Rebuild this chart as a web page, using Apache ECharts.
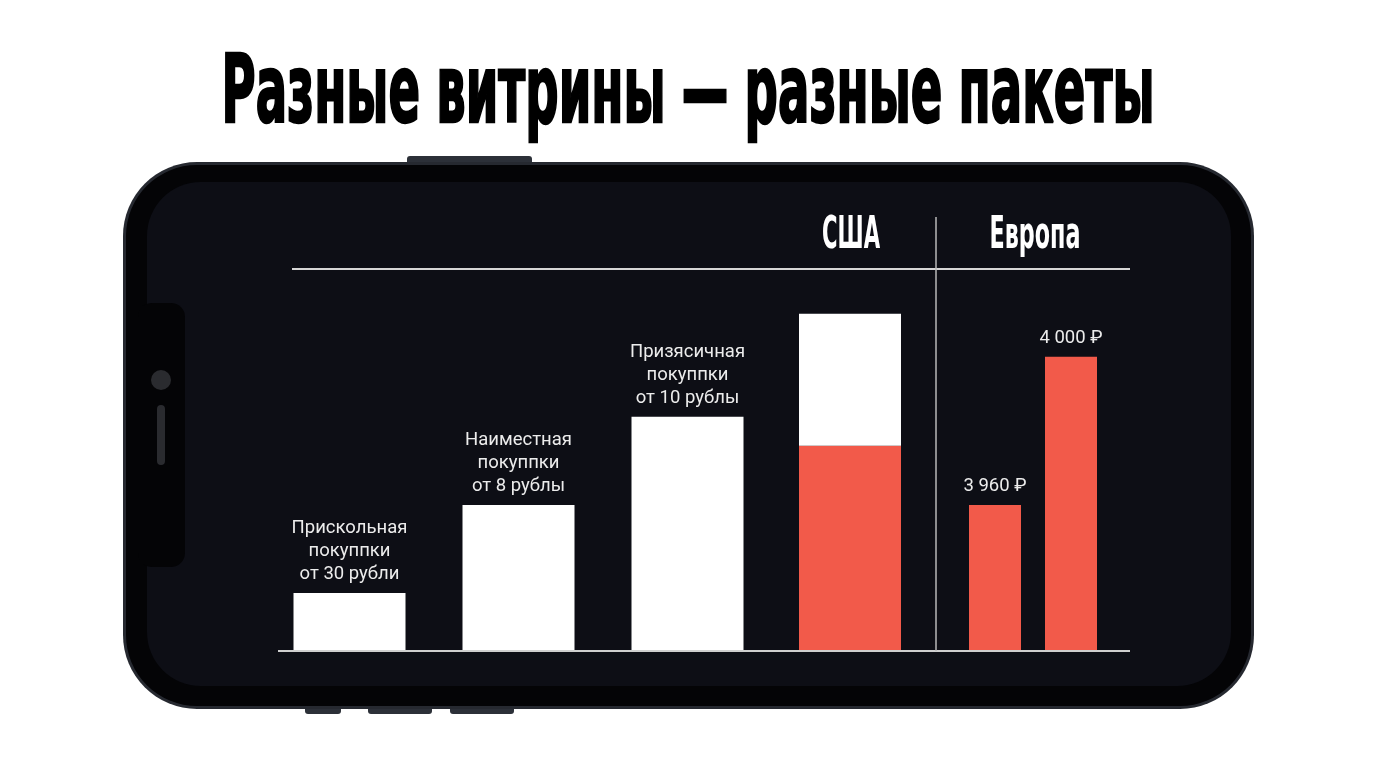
<!DOCTYPE html>
<html>
<head>
<meta charset="utf-8">
<script src="https://cdn.jsdelivr.net/npm/echarts@6/dist/echarts.min.js"></script>
<style>
  html, body { margin: 0; background: #fff; }
  #chart { width: 1376px; height: 768px; }
</style>
</head>
<body>
<div id="chart"></div>
<script>
const titleText = 'Разные витрины — разные пакеты'
const sectionNames = ['США', 'Европа']

// left block: three white bars (relative height, 0..100)
const tierCategories = ['Прискольная', 'Наиместная', 'Призясичная']
const tierLabels = [
  'Прискольная\nпокуппки\nот 30 рубли',
  'Наиместная\nпокуппки\nот 8 рублы',
  'Призясичная\nпокуппки\nот 10 рублы',
]
const tierValues = [15.2, 38.2, 61.3]

// USA: red part + white part on top
const usaRed = [53.7]
const usaWhite = [34.6]

// Europe
const euCategories = ['3960', '4000']
const euLabels = ['3 960 ₽', '4 000 ₽']
const euValues = [38.2, 77.0]

const RED = '#f25a4a'
const SCREEN = '#0d0e15'
const condensed = '"Liberation Sans Narrow", "DejaVu Sans Condensed", "Liberation Sans", sans-serif'

// squeeze bold text to the width it has in the picture
function fitScale(text, size, target) {
  const ctx = document.createElement('canvas').getContext('2d')
  ctx.font = `bold ${size}px ${condensed}`
  return target / ctx.measureText(text).width
}

function condensedText(text, cx, cy, size, width, color, extra) {
  return {
    type: 'text',
    x: cx,
    y: cy,
    scaleX: fitScale(text, size, width),
    z: 20,
    style: Object.assign({
      text,
      fill: color,
      fontFamily: condensed,
      fontWeight: 'bold',
      fontSize: size,
      align: 'center',
      verticalAlign: 'middle',
    }, extra || {}),
  }
}

const chart = echarts.init(document.getElementById('chart'))

const gridTop = 269
const gridBottom = 117
const labelStyle = {
  show: true,
  position: 'top',
  distance: 7,
  color: '#ececec',
  fontFamily: 'Roboto',
  fontSize: 18.5,
  lineHeight: 23,
}

const option = {
  backgroundColor: '#fff',
  animation: false,
  grid: [
    { left: 265, width: 507, top: gridTop, bottom: gridBottom },
    { left: 780, width: 140, top: gridTop, bottom: gridBottom },
    { left: 957, width: 152, top: gridTop, bottom: gridBottom },
  ],
  xAxis: [
    { type: 'category', gridIndex: 0, data: tierCategories, show: false },
    { type: 'category', gridIndex: 1, data: [sectionNames[0]], show: false },
    { type: 'category', gridIndex: 2, data: euCategories, show: false },
  ],
  yAxis: [0, 1, 2].map(i => ({ type: 'value', gridIndex: i, min: 0, max: 100, show: false })),
  series: [
    {
      type: 'bar',
      xAxisIndex: 0,
      yAxisIndex: 0,
      data: tierValues,
      barWidth: 112,
      itemStyle: { color: '#fff' },
      label: Object.assign({}, labelStyle, { formatter: p => tierLabels[p.dataIndex] }),
    },
    {
      type: 'bar',
      xAxisIndex: 1,
      yAxisIndex: 1,
      stack: 'usa',
      data: usaRed,
      barWidth: 102,
      itemStyle: { color: RED },
    },
    {
      type: 'bar',
      xAxisIndex: 1,
      yAxisIndex: 1,
      stack: 'usa',
      data: usaWhite,
      barWidth: 102,
      itemStyle: { color: '#fff' },
    },
    {
      type: 'bar',
      xAxisIndex: 2,
      yAxisIndex: 2,
      data: euValues,
      barWidth: 52,
      itemStyle: { color: RED },
      label: Object.assign({}, labelStyle, { formatter: p => euLabels[p.dataIndex] }),
    },
  ],
  graphic: [
    // phone body
    { type: 'rect', z: 0, shape: { x: 407, y: 156, width: 125, height: 10, r: 3 }, style: { fill: '#2c3038' } },
    { type: 'rect', z: 0, shape: { x: 305, y: 704, width: 36, height: 10, r: 3 }, style: { fill: '#2c3038' } },
    { type: 'rect', z: 0, shape: { x: 368, y: 704, width: 64, height: 10, r: 3 }, style: { fill: '#2c3038' } },
    { type: 'rect', z: 0, shape: { x: 450, y: 704, width: 64, height: 10, r: 3 }, style: { fill: '#2c3038' } },
    { type: 'rect', z: 1, shape: { x: 123, y: 162, width: 1131, height: 547, r: 74 }, style: { fill: '#262930' } },
    { type: 'rect', z: 1, shape: { x: 126, y: 165, width: 1125, height: 541, r: 71 }, style: { fill: '#040406' } },
    { type: 'rect', z: 1, shape: { x: 147, y: 182, width: 1084, height: 504, r: 54 }, style: { fill: SCREEN } },
    { type: 'rect', z: 1, shape: { x: 138, y: 303, width: 47, height: 264, r: 14 }, style: { fill: '#040406' } },
    { type: 'circle', z: 1, shape: { cx: 161, cy: 380, r: 10 }, style: { fill: '#2a2b2f' } },
    { type: 'rect', z: 1, shape: { x: 157, y: 405, width: 8, height: 60, r: 4 }, style: { fill: '#2a2b2f' } },
    // rules
    { type: 'line', z: 5, shape: { x1: 292, y1: 269, x2: 1130, y2: 269 }, style: { stroke: '#d6d6d6', lineWidth: 2 } },
    { type: 'line', z: 5, shape: { x1: 278, y1: 651, x2: 1130, y2: 651 }, style: { stroke: '#cfcfcf', lineWidth: 2 } },
    { type: 'line', z: 5, shape: { x1: 936, y1: 217, x2: 936, y2: 651 }, style: { stroke: '#b8b8b8', lineWidth: 1.5 } },
    // texts
    condensedText(titleText, 688, 97, 95, 933, '#000', { stroke: '#000', lineWidth: 2.5 }),
    condensedText(sectionNames[0], 851, 237, 44, 58, '#fff'),
    condensedText(sectionNames[1], 1035, 237, 44, 91, '#fff'),
  ],
}

chart.setOption(option)
</script>
</body>
</html>
